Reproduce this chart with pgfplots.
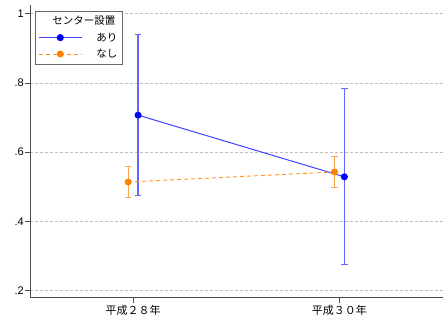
\documentclass[border=0pt]{standalone}
\usepackage{pgfplots}
\pgfplotsset{compat=1.18}
\usetikzlibrary{calc}
\usepackage{fontspec}
\setmainfont{Liberation Sans}
\newfontfamily\jp{Noto Sans CJK JP}
\definecolor{sblue}{RGB}{0,0,255}
\definecolor{sorange}{RGB}{255,128,0}
\begin{document}
\begin{tikzpicture}
\begin{axis}[
  name=ax,
  width=413pt, height=293pt, scale only axis,
  xmin=0.5, xmax=2.5, ymin=0.18, ymax=1.025,
  axis x line*=bottom, axis y line*=left,
  axis line style={black!70, line width=0.9pt},
  xtick={1,2}, xticklabels={{\jp 平成２８年},{\jp 平成３０年}},
  ytick={0.2,0.4,0.6,0.8,1}, yticklabels={.2,.4,.6,.8,1},
  tick align=outside, major tick length=5pt,
  tick style={black!70, line width=0.7pt},
  ymajorgrids, grid style={densely dashed, black!25, line width=0.7pt},
  yticklabel style={font=\fontsize{11}{13}\selectfont, inner sep=1pt},
  xticklabel style={font=\jp\fontsize{11}{13}\selectfont, inner sep=2pt},
  legend style={at={(0.012,0.98)}, anchor=north west, draw=black!60, fill=white, line width=0.7pt,
    font=\jp\fontsize{10.5}{12}\selectfont, row sep=2.5pt, inner xsep=3pt, inner ysep=3pt},
  legend cell align=left,
  legend image code/.code={\draw[mark repeat=2,mark phase=2] plot coordinates {(0pt,0pt)(21.5pt,0pt)(43pt,0pt)};},
]
\addlegendimage{empty legend}
\addlegendentry{\hspace{-32pt}センター設置}
\addplot[color=sblue!75, line width=1pt, mark=*, mark size=3pt, mark options={draw=sblue, fill=sblue},
  legend image post style={draw=sblue!75, line width=1.1pt},
  error bars/.cd, y dir=both, y explicit,
  error bar style={color=sblue!60, line width=1.2pt},
  error mark options={rotate=90, mark size=3.2pt, color=sblue!60, line width=1pt}]
  coordinates {(1.024,0.707) +- (0,0.232) (2.024,0.529) +- (0,0.254)};
\addlegendentry{\hspace{12pt}あり\hspace{2pt}}
\addplot[color=sorange!85, line width=0.9pt, dash pattern=on 4pt off 3pt, mark=*, mark size=3pt, mark options={solid, draw=sorange, fill=sorange},
  legend image post style={draw=sorange!85},
  error bars/.cd, y dir=both, y explicit,
  error bar style={color=sorange!70, line width=1pt, solid},
  error mark options={rotate=90, mark size=3.2pt, color=sorange!70, line width=1pt, solid}]
  coordinates {(0.976,0.514) +- (0,0.046) (1.976,0.543) +- (0,0.046)};
\addlegendentry{\hspace{12pt}なし\hspace{2pt}}
\end{axis}
\useasboundingbox ($(ax.south west)+(-30pt,-24pt)$) rectangle ($(ax.north east)+(0,5pt)$);
\end{tikzpicture}
\end{document}
